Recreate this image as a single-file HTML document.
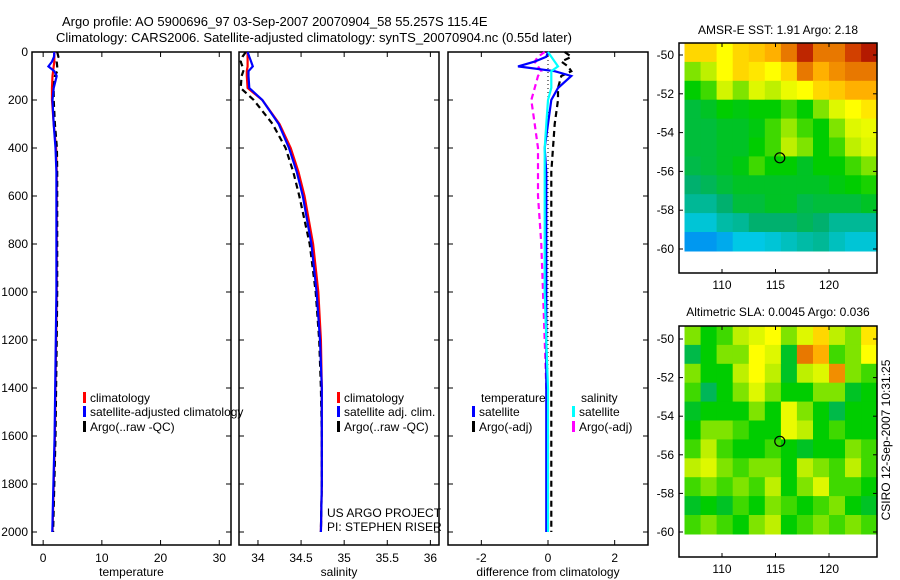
<!DOCTYPE html>
<html><head><meta charset="utf-8"><style>
body{margin:0;background:#fff;}
svg{display:block;font-family:"Liberation Sans",sans-serif;}
</style></head><body>
<svg id="fig" width="900" height="580" viewBox="0 0 900 580" xmlns="http://www.w3.org/2000/svg">
<text x="62" y="26" font-size="13">Argo profile: AO 5900696_97 03-Sep-2007 20070904_58 55.257S 115.4E</text>
<text x="56" y="42" font-size="13">Climatology: CARS2006. Satellite-adjusted climatology: synTS_20070904.nc (0.55d later)</text>
<text x="778" y="34" font-size="12" text-anchor="middle">AMSR-E SST: 1.91 Argo: 2.18</text>
<text x="778" y="316" font-size="12" text-anchor="middle">Altimetric SLA: 0.0045 Argo: 0.036</text>
<text transform="translate(890,440) rotate(-90)" font-size="12" text-anchor="middle">CSIRO 12-Sep-2007 10:31:25</text>
<g id="plots"></g>
</svg>
<script>
// ---- profile data ----
const depths=[0,20,40,60,80,100,150,200,300,400,500,600,800,1000,1200,1400,1600,1800,2000];
const tempClim=[1.9,1.9,1.9,1.8,1.7,1.6,1.5,1.5,1.8,2.2,2.3,2.3,2.3,2.3,2.2,2.1,2.0,1.8,1.6];
const tempSat=[1.9,1.85,1.5,0.9,1.9,2.3,1.8,1.6,1.8,2.1,2.25,2.25,2.25,2.25,2.15,2.05,1.95,1.75,1.55];
const tempArgo=[2.4,2.6,2.3,2.4,2.4,2.0,1.8,1.8,2.0,2.35,2.4,2.4,2.4,2.4,2.3,2.2,2.1,1.9,1.7];
const salClim=[33.88,33.88,33.88,33.88,33.87,33.87,33.88,34.05,34.25,34.38,34.47,34.54,34.64,34.70,34.73,34.74,34.74,34.74,34.73];
const salSat=[33.88,33.90,33.92,33.94,33.89,33.89,33.90,34.05,34.24,34.36,34.45,34.52,34.62,34.68,34.72,34.74,34.74,34.74,34.73];
const salArgo=[33.86,33.82,33.80,33.82,33.83,33.81,33.80,33.95,34.17,34.32,34.41,34.48,34.60,34.67,34.71,34.73,34.74,34.74,34.73];
const SAL_SCALE=5;
const yTicks=[0,200,400,600,800,1000,1200,1400,1600,1800,2000];
const tempTicks=[0,10,20,30];
const salTicks=[34,34.5,35,35.5,36];
const salTickLabels=["34","34.5","35","35.5","36"];
const diffTicks=[-2,0,2];
// ---- map data (12 lon cols x 11 lat rows, normalised colour value) ----
const mapLons=[106.5,108,109.5,111,112.5,114,115.5,117,118.5,120,121.5,123];
const mapLonTicks=[110,115,120];
const mapLatTicks=[-50,-52,-54,-56,-58,-60];
const sstGrid=[
[.8,.8,.75,.8,.82,.85,.9,.97,.9,.9,.95,.98],
[.6,.65,.75,.8,.78,.75,.8,.9,.85,.88,.9,.9],
[.5,.55,.68,.6,.7,.65,.72,.75,.8,.82,.85,.85],
[.42,.45,.5,.48,.5,.5,.55,.5,.6,.7,.75,.78],
[.42,.42,.45,.45,.48,.55,.62,.55,.5,.6,.7,.72],
[.42,.42,.45,.45,.5,.55,.65,.6,.5,.55,.65,.7],
[.4,.42,.45,.48,.55,.5,.5,.45,.5,.5,.55,.6],
[.35,.38,.42,.45,.45,.45,.45,.45,.45,.48,.5,.52],
[.3,.3,.35,.42,.42,.45,.45,.4,.42,.42,.42,.45],
[.22,.22,.28,.3,.35,.35,.35,.38,.35,.3,.3,.3],
[.12,.12,.15,.2,.2,.22,.25,.28,.3,.25,.22,.22]];
const slaGrid=[
[.6,.5,.55,.65,.7,.75,.6,.7,.8,.65,.6,.78],
[.4,.5,.6,.6,.75,.7,.45,.9,.85,.55,.6,.75],
[.6,.5,.5,.65,.75,.65,.45,.65,.7,.88,.6,.55],
[.55,.38,.5,.6,.7,.6,.5,.5,.6,.6,.45,.5],
[.45,.5,.5,.5,.6,.5,.72,.6,.5,.4,.5,.5],
[.5,.6,.6,.55,.5,.5,.72,.65,.5,.55,.5,.5],
[.55,.65,.55,.5,.5,.55,.5,.45,.5,.5,.6,.55],
[.65,.7,.6,.55,.6,.6,.5,.65,.6,.55,.65,.55],
[.55,.6,.55,.6,.55,.65,.5,.6,.7,.55,.55,.5],
[.45,.5,.45,.55,.5,.6,.55,.5,.55,.6,.5,.45],
[.55,.6,.55,.5,.6,.65,.5,.55,.6,.55,.6,.55]];
const floatLon=115.4, floatLat=-55.3;

const NS="http://www.w3.org/2000/svg";
const root=document.getElementById('plots');
function mk(tag,attrs,parent){const e=document.createElementNS(NS,tag);for(const k in attrs)e.setAttribute(k,attrs[k]);(parent||root).appendChild(e);return e;}
function txt(s,x,y,anchor,parent,size){const t=mk('text',{x:x,y:y,'font-size':size||12,'text-anchor':anchor||'start'},parent);t.textContent=s;return t;}

const yD=d=>52+d*0.24;
function panel(name,x0,x1,xmin,xmax,ticks,labels,xlabel,showY){
  const g=mk('g',{});
  
  
  const sx=v=>x0+(v-xmin)/(xmax-xmin)*(x1-x0);
  mk('rect',{x:x0,y:52,width:x1-x0,height:493,fill:'none',stroke:'#000','stroke-width':1.5},g);
  yTicks.forEach(d=>{const y=yD(d);
    mk('line',{x1:x0,x2:x0+5,y1:y,y2:y,stroke:'#000'},g);
    mk('line',{x1:x1,x2:x1-5,y1:y,y2:y,stroke:'#000'},g);
    if(showY){const t=txt(String(d),x0-4,y+4,'end',g);}
  });
  ticks.forEach((v,i)=>{const x=sx(v);
    mk('line',{x1:x,x2:x,y1:545,y2:540,stroke:'#000'},g);
    mk('line',{x1:x,x2:x,y1:52,y2:57,stroke:'#000'},g);
    const t=txt(labels[i],x,562,'middle',g);
    
    
  });
  const xl=txt(xlabel,(x0+x1)/2,576,'middle',g);
  
  
  return {g,sx};
}
function line(g,sx,vals,color,dash,name){
  const pts=vals.map((v,i)=>sx(v).toFixed(1)+','+yD(depths[i]).toFixed(1)).join(' ');
  const p=mk('polyline',{points:pts,fill:'none',stroke:color,'stroke-width':2.2,'stroke-dasharray':dash||'none'},g);
  
  
}
function legend(g,x,y,color,label,name){
  const e=mk('g',{},g);
  
  
  if(color) mk('rect',{x:x,y:y-10,width:3,height:11,fill:color},e);
  txt(label,x+7,y,'start',e);
}
const p1=panel('temperature-panel',32,231,-1.9,32,tempTicks,tempTicks.map(String),'temperature',true);
line(p1.g,p1.sx,tempClim,'#f00',null,'temp-climatology-line');
line(p1.g,p1.sx,tempArgo,'#000','6,4','temp-argo-line');
line(p1.g,p1.sx,tempSat,'#00f',null,'temp-satellite-line');
legend(p1.g,83,402,'#f00','climatology','legend-climatology');
legend(p1.g,83,416,'#00f','satellite-adjusted climatology','legend-satellite');
legend(p1.g,83,431,'#000','Argo(..raw -QC)','legend-argo');
const p2=panel('salinity-panel',239,439,33.78,36.1,salTicks,salTickLabels,'salinity',false);
line(p2.g,p2.sx,salClim,'#f00',null,'sal-climatology-line');
line(p2.g,p2.sx,salArgo,'#000','6,4','sal-argo-line');
line(p2.g,p2.sx,salSat,'#00f',null,'sal-satellite-line');
legend(p2.g,337,402,'#f00','climatology','legend-climatology');
legend(p2.g,337,416,'#00f','satellite adj. clim.','legend-satellite');
legend(p2.g,337,431,'#000','Argo(..raw -QC)','legend-argo');
legend(p2.g,320,517,null,'US ARGO PROJECT','project-label');
legend(p2.g,320,531,null,'PI: STEPHEN RISER','pi-label');
const p3=panel('difference-panel',448,648,-3,3,diffTicks,diffTicks.map(String),'difference from climatology',false);
mk('line',{x1:p3.sx(0),x2:p3.sx(0),y1:52,y2:532,stroke:'#000','stroke-dasharray':'1,3'},p3.g);
line(p3.g,p3.sx,tempArgo.map((v,i)=>v-tempClim[i]),'#000','6,4','temp-argo-diff-line');
line(p3.g,p3.sx,salArgo.map((v,i)=>(v-salClim[i])*SAL_SCALE),'#f0f','6,4','sal-argo-diff-line');
line(p3.g,p3.sx,tempSat.map((v,i)=>v-tempClim[i]),'#00f',null,'temp-sat-diff-line');
line(p3.g,p3.sx,salSat.map((v,i)=>(v-salClim[i])*SAL_SCALE),'#0ff',null,'sal-sat-diff-line');
legend(p3.g,474,402,null,'temperature','legend-temperature-heading');
legend(p3.g,472,416,'#00f','satellite','legend-temp-satellite');
legend(p3.g,472,431,'#000','Argo(-adj)','legend-temp-argo');
legend(p3.g,574,402,null,'salinity','legend-salinity-heading');
legend(p3.g,572,416,'#0ff','satellite','legend-sal-satellite');
legend(p3.g,572,431,'#f0f','Argo(-adj)','legend-sal-argo');

const stops=[[0,[0,80,255]],[0.2,[0,200,230]],[0.35,[0,176,110]],[0.5,[0,205,0]],[0.65,[190,240,0]],[0.75,[255,255,0]],[0.85,[255,176,0]],[0.95,[210,64,0]],[1,[160,0,0]]];
function cmap(v){for(let i=1;i<stops.length;i++){if(v<=stops[i][0]){const a=stops[i-1],b=stops[i];const t=(v-a[0])/(b[0]-a[0]);return 'rgb('+a[1].map((c,j)=>Math.round(c+(b[1][j]-c)*t)).join(',')+')';}}return 'rgb(160,0,0)';}
function map(name,grid,top,bottom,latTop50,latBot60){
  const g=mk('g',{});
  
  
  const x0=679,x1=877;
  const sx=lon=>722+(lon-110)*10.7;
  const sy=lat=>latTop50+(-50-lat)*(latBot60-latTop50)/10;
  const latStart=-50+(latTop50-top)/((latBot60-latTop50)/10);
  const rows=grid.length, rowH=(latStart-(-60.1))/rows;
  grid.forEach((row,r)=>row.forEach((v,c)=>{
    const la=latStart-r*rowH;
    const xa=sx(mapLons[c]), xb=c<row.length-1?sx(mapLons[c+1]):x1;
    const cell=mk('rect',{x:xa.toFixed(1),y:sy(la).toFixed(1),width:(xb-xa+0.6).toFixed(1),height:(sy(la-rowH)-sy(la)+0.6).toFixed(1),fill:cmap(v)},g);
    
    
  }));
  mk('rect',{x:x0,y:top,width:x1-x0,height:bottom-top,fill:'none',stroke:'#000','stroke-width':1.5},g);
  mapLonTicks.forEach(l=>{const x=sx(l);
    mk('line',{x1:x,x2:x,y1:top,y2:top+4,stroke:'#000'},g);
    mk('line',{x1:x,x2:x,y1:bottom,y2:bottom-4,stroke:'#000'},g);
    const t=txt(String(l),x,bottom+16,'middle',g);});
  mapLatTicks.forEach(l=>{const y=sy(l);
    mk('line',{x1:x0,x2:x0+4,y1:y,y2:y,stroke:'#000'},g);
    mk('line',{x1:x1,x2:x1-4,y1:y,y2:y,stroke:'#000'},g);
    const t=txt(String(l),x0-5,y+4,'end',g);});
  const c=mk('circle',{cx:sx(floatLon),cy:sy(floatLat),r:5,fill:'none',stroke:'#000','stroke-width':1.2},g);
  
  
}
map('sst-map',sstGrid,43,273,55,249);
map('sla-map',slaGrid,326,557,339,532);
</script>
</body></html>
